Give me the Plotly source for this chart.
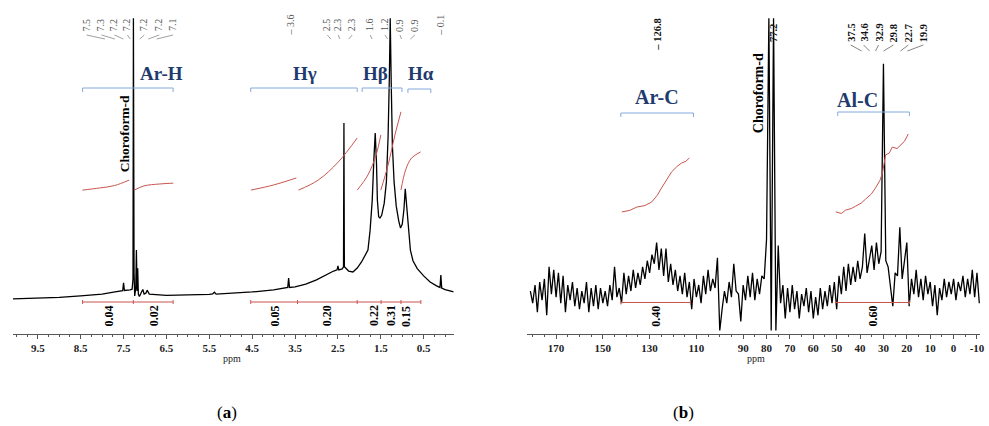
import plotly.graph_objects as go

W, H = 989, 426

# ---------------- data ----------------
# (a) 1H NMR spectrum: chemical shift (ppm) and relative intensity
h1_ppm = [10.08, 9.5, 9.0, 8.5, 8.0, 7.7, 7.55, 7.52, 7.5, 7.48, 7.35, 7.3, 7.28, 7.27, 7.255,
          7.24, 7.215, 7.2, 7.185, 7.17, 7.155, 7.13, 7.07, 7.05, 7.02, 6.98, 6.95, 6.9, 6.5,
          6.0, 5.5, 5.42, 5.38, 5.34, 5.0, 4.5, 4.0, 3.7, 3.67, 3.65, 3.63, 3.5, 3.25, 3.0,
          2.75, 2.6, 2.52, 2.5, 2.48, 2.4, 2.37, 2.36, 2.35, 2.32, 2.25, 2.15, 2.05, 1.95,
          1.85, 1.80, 1.75, 1.70, 1.66, 1.63, 1.60, 1.58, 1.55, 1.52, 1.48, 1.42, 1.37, 1.33,
          1.30, 1.28, 1.26, 1.23, 1.19, 1.14, 1.08, 1.04, 1.00, 0.96, 0.93, 0.90, 0.86, 0.81,
          0.75, 0.65, 0.5, 0.35, 0.2, 0.12, 0.1, 0.08, 0.0, -0.2]
h1_int = [1.4, 1.6, 1.9, 2.4, 3.0, 3.7, 4.0, 4.1, 6.7, 4.2, 4.4, 4.6, 8.0, 94.0, 10.0,
          2.4, 5.0, 17.5, 4.0, 11.5, 3.0, 2.2, 4.0, 4.5, 3.0, 3.3, 4.3, 3.0, 2.6,
          2.7, 2.9, 3.1, 3.6, 3.0, 3.2, 3.7, 4.4, 5.0, 5.2, 8.3, 5.2, 5.4, 6.3, 7.7,
          9.6, 10.6, 11.0, 12.3, 11.0, 11.3, 12.0, 59.4, 12.0, 11.5, 10.6, 10.3, 11.6, 13.6,
          16.0, 17.5, 24.0, 34.0, 48.0, 56.1, 46.0, 34.0, 28.5, 28.1, 29.0, 33.0, 40.0, 55.0,
          75.0, 94.0, 75.0, 52.0, 40.0, 32.0, 27.0, 24.8, 26.0, 31.0, 37.7, 32.0, 25.0, 17.5,
          14.0, 11.4, 9.0, 7.0, 5.7, 5.2, 9.3, 5.0, 4.5, 3.7]

# (b) 13C NMR spectrum: one intensity per ppm from 181 down to -11
c13_ppm = list(range(181, -12, -1))
c13_int = [4, 0, 6, -3, 7, 1, 8, -4, 12,
           3, 11, 2, 10, 0, 9, -3, 6, 1, 7,
           -1, 5, -2, 4, 0, 7, -3, 5, -1, 6,
           -2, 5, 0, 4, -1, 6, 1, 12, 2, 5,
           0, 10, 3, 9, 4, 11, 5, 10, 6, 12,
           8, 14, 10, 16, 13, 20, 11, 18, 9, 18,
           7, 13, 6, 11, 4, 9, 3, 10, 2, 7,
           -2, 8, 2, 6, 0, 9, 3, 11, 4, 8,
           5, 15, -9, -2, 4, 0, 7, 2, 13, 4,
           3, -6, 6, 1, 9, 2, 10, 1, 8, 3,
           9, 8, 21, 94, -9, 94, -9, 19, 0, 6,
           -5, 5, -3, 6, -2, 4, -5, 3, -1, 5,
           -3, 4, -5, 2, -4, 5, -2, 4, -1, 6,
           0, 7, -2, 9, 3, 12, 4, 13, 6, 12,
           7, 14, 8, 12, 23, 10, 15, 19, 11, 20,
           13, 17, 79, 14, 12, 6, -1, 10, 9, 25,
           8, 14, 20, -1, 8, 3, 11, 2, 8, 1,
           9, 3, 7, -1, 6, -4, 5, 1, 8, 2,
           7, 3, 8, 1, 7, 4, 9, 2, 8, 3,
           11, 2, 10, 0]

# integral curves (ppm, height)
integrals_a = [
    ([8.46, 8.06, 7.71, 7.37], [37.3, 38.0, 38.8, 40.6]),
    ([7.25, 7.02, 6.67, 6.34], [37.3, 38.7, 39.3, 39.6]),
    ([4.53, 4.0, 3.47], [37.3, 39.0, 41.3]),
    ([3.42, 2.96, 2.49, 2.05], [37.3, 40.6, 46.6, 54.5]),
    ([2.05, 1.80, 1.61, 1.50], [37.3, 42.3, 48.9, 55.5]),
    ([1.50, 1.33, 1.17, 1.03], [37.3, 45.6, 55.5, 63.1]),
    ([1.03, 0.92, 0.78, 0.57], [37.3, 44.0, 47.9, 49.9]),
]
integrals_b = [
    ([141.9, 138.5, 135.5, 132.0, 129.1, 126.8, 124.9, 122.5, 120.6, 118.4, 116.4, 114.5, 113.0],
     [30.1, 30.6, 31.7, 32.2, 33.4, 35.5, 38.0, 41.0, 43.3, 45.0, 46.2, 46.8, 47.9]),
    ([50.4, 48.0, 46.2, 43.8, 41.9, 39.5, 37.7, 35.2, 33.4, 31.5, 30.4, 29.1, 27.5, 26.2, 24.2, 22.8, 21.0, 19.4],
     [30.1, 29.6, 30.7, 31.2, 32.0, 33.0, 34.3, 36.0, 38.0, 40.5, 43.0, 48.9, 49.5, 51.5, 51.0, 52.2, 53.4, 55.8]),
]

int_vals_a = ["0.04", "0.02", "0.05", "0.20", "0.22", "0.31", "0.15"]
int_vals_b = ["0.40", "0.60"]
peaks_a = ["7.5", "7.3", "7.2", "7.2", "7.2", "7.2", "7.1",
           "– 3.6", "2.5", "2.3", "2.3", "1.6", "1.2", "0.9", "0.9", "– 0.1"]
peaks_b = ["– 126.8", "77.2", "37.5", "34.6", "32.9", "29.8", "22.7", "19.9"]
groups_a = ["Ar-H", "Hγ", "Hβ", "Hα"]
groups_b = ["Ar-C", "Al-C"]
ticks_a = [9.5, 8.5, 7.5, 6.5, 5.5, 4.5, 3.5, 2.5, 1.5, 0.5]
ticks_b = [170, 150, 130, 110, 90, 80, 70, 60, 50, 40, 30, 20, 10, 0, -10]

# ---------------- figure ----------------
SERIF = "Liberation Serif"
RED = "#c9554f"
BLUE = "#86a8dc"
NAVY = "#1f3b6e"

fig = go.Figure()
fig.add_trace(go.Scatter(x=h1_ppm, y=h1_int, mode="lines", xaxis="x", yaxis="y",
                         line=dict(color="black", width=1.3), hoverinfo="skip"))
fig.add_trace(go.Scatter(x=c13_ppm, y=c13_int, mode="lines", xaxis="x2", yaxis="y2",
                         line=dict(color="black", width=1.3), hoverinfo="skip"))
for xs, ys in integrals_a:
    fig.add_trace(go.Scatter(x=xs, y=ys, mode="lines", xaxis="x", yaxis="y",
                             line=dict(color=RED, width=1, shape="spline"), hoverinfo="skip"))
for xs, ys in integrals_b:
    fig.add_trace(go.Scatter(x=xs, y=ys, mode="lines", xaxis="x2", yaxis="y2",
                             line=dict(color=RED, width=1), hoverinfo="skip"))


def px(x):
    return x / W


def py(y):
    return 1 - y / H


shapes = []


def seg(x0, y0, x1, y1, color, width=1):
    shapes.append(dict(type="line", xref="paper", yref="paper", x0=px(x0), y0=py(y0),
                       x1=px(x1), y1=py(y1), line=dict(color=color, width=width)))


# brackets
for x0, x1, y in [(83, 174, 88), (252, 359, 88), (364, 404, 88), (410, 433, 89),
                  (624, 697, 113), (842, 914, 112)]:
    seg(x0, y, x1, y, BLUE)
    seg(x0, y, x0, y + 4, BLUE)
    seg(x1, y, x1, y + 4, BLUE)

# integration bars
for x0, x1, y, marks in [(83, 174, 302, [83, 134, 174]),
                         (252, 423, 302, [252, 299, 359, 383, 403, 423]),
                         (624, 694, 302.5, [624, 694]),
                         (840, 914, 302.5, [840, 914])]:
    seg(x0, y, x1, y, RED)
    for m in marks:
        seg(m, y - 2, m, y + 2, RED)

# peak-label connectors
lab_a_x = [87, 102, 115, 128, 145, 160, 174, 292, 329, 340, 354, 372, 387, 402, 417, 443]
lab_a_peak = [124, 129, 133, 134, 136, 138, 141, None, 336, 343, 347, 376, 392, 405, 408, None]
for xl, xp in zip(lab_a_x, lab_a_peak):
    if xp is not None:
        seg(xl, 35, (xl + xp) / 2, 39, "#888", 0.8)
lab_b_x = [660, 777, 855, 868, 883, 898, 913, 928]
lab_b_peak = [None, None, 866, 874, 880, 888, 905, 912]
for xl, xp in zip(lab_b_x, lab_b_peak):
    if xp is not None:
        seg(xl, 45, xp, 51, "#666", 0.8)

ann = []


def text(x, y, t, size, color="black", angle=0, bold=False, family=SERIF):
    ann.append(dict(x=px(x), y=py(y), xref="paper", yref="paper", text=t, showarrow=False,
                    xanchor="center", yanchor="middle", textangle=angle,
                    font=dict(family=family, size=size, color=color,
                              weight="bold" if bold else "normal")))


for t, x in zip(peaks_a, lab_a_x):
    text(x, 25, t, 10, "#555", -90)
for t, x in zip(peaks_b, lab_b_x):
    text(x, 33 if x > 700 else 34, t, 10.5, "#111", -90, True)

for t, x, y in zip(groups_a, [162, 307, 377, 423], [73, 73, 73, 73]):
    text(x, y, t, 19, NAVY, 0, True)
for t, x, y in zip(groups_b, [660, 862], [97, 100]):
    text(x, y, t, 20, NAVY, 0, True)

for t, x in zip(int_vals_a, [110, 155, 276, 329, 376, 393, 408]):
    text(x, 316, t, 12, "black", -90, True)
for t, x in zip(int_vals_b, [659, 877]):
    text(x, 316, t, 12, "black", -90, True)

text(125, 134, "Choroform-d", 13.5, "black", -90, True)
text(763, 93, "Choroform-d", 14, "black", -90, True)

text(233, 358, "ppm", 10, "#222")
text(760, 358, "ppm", 10, "#222")
text(228, 412, "(<b>a</b>)", 17, "black")
text(687, 412, "(<b>b</b>)", 17, "black")

ydom = [(H - 333.5) / H, 1]
axis_common = dict(showline=True, linecolor="#555", linewidth=1, ticks="outside", ticklen=4,
                   tickcolor="#555", showgrid=False, zeroline=False, tickmode="array",
                   ticklabeloverflow="allow",
                   tickfont=dict(family=SERIF, size=11, color="#222", weight="bold"))

fig.update_layout(
    width=W, height=H, margin=dict(l=0, r=0, t=0, b=0),
    paper_bgcolor="white", plot_bgcolor="white", showlegend=False,
    xaxis=dict(domain=[13 / W, 456 / W], range=[10.08, -0.2], anchor="y",
               tickvals=ticks_a, ticktext=[str(v) for v in ticks_a],
               minor=dict(ticks="outside", ticklen=2, tickcolor="#555", tickmode="linear",
                          tick0=0.5, dtick=0.25),
               **axis_common),
    yaxis=dict(domain=ydom, range=[-10, 100], visible=False),
    xaxis2=dict(domain=[530 / W, 985 / W], range=[182.3, -11.3], anchor="y2",
                tickvals=ticks_b, ticktext=[str(v) for v in ticks_b],
                minor=dict(ticks="outside", ticklen=2, tickcolor="#555", tickmode="linear",
                           tick0=0, dtick=5),
                **axis_common),
    yaxis2=dict(domain=ydom, range=[-10, 100], visible=False),
    shapes=shapes, annotations=ann,
)

fig.write_html("out.html", config={"displayModeBar": False},
               post_script="document.body.style.margin='0px';document.body.style.padding='0px';")
